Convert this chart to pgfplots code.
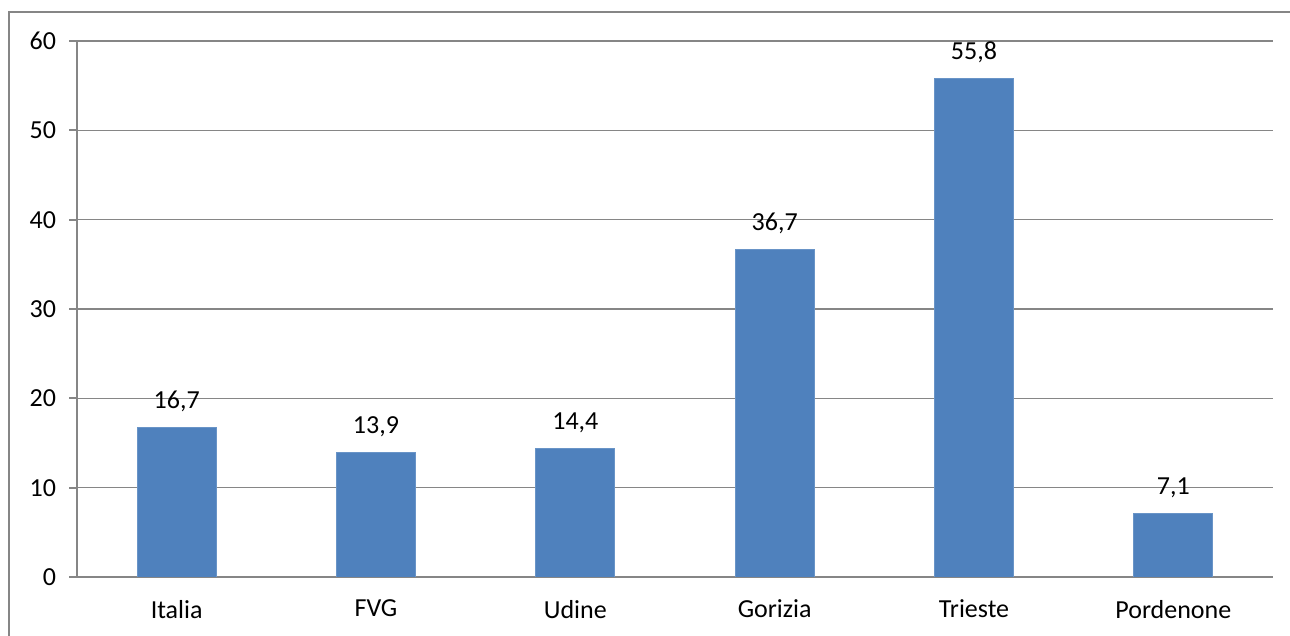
\documentclass[border=0pt]{standalone}
\usepackage{pgfplots}
\pgfplotsset{compat=1.18}
\usepackage{fontspec}
\setmainfont{Carlito}
\definecolor{barblue}{RGB}{79,129,189}
\definecolor{gridgray}{RGB}{134,134,134}
\begin{document}
\begin{tikzpicture}
\useasboundingbox (0pt,0pt) rectangle (645pt,318pt);
\draw[gridgray, line width=1pt] (4.5pt,0pt) -- (4.5pt,312pt) -- (645pt,312pt);
\begin{axis}[
  at={(38.5pt,29.5pt)}, anchor=south west,
  scale only axis,
  width=598pt, height=268pt,
  xmin=-0.5, xmax=5.5, ymin=0, ymax=60,
  ytick={0,10,...,60},
  xtick={0,...,5},
  xticklabels={Italia,FVG,Udine,Gorizia,Trieste,Pordenone},
  minor xtick={-0.5,0.5,...,5.5},
  axis x line*=bottom, axis y line*=left,
  axis line style={gridgray, line width=1pt, -},
  ymajorgrids, grid style={gridgray, line width=0.8pt},
  tick align=outside,
  major tick length=4pt,
  xtick style={draw=none},
  minor tick length=3pt,
  minor tick style={gridgray, line width=1pt},
  ytick style={gridgray, line width=1pt},
  tick label style={font=\fontsize{13}{16}\selectfont},
  /pgf/number format/assume math mode=true,
  xticklabel style={yshift=-4pt},
  yticklabel style={xshift=-3pt},
  ybar, bar width=39.5pt,
  nodes near coords,
  nodes near coords style={font=\fontsize{13}{16}\selectfont, anchor=center, yshift=13pt,
    /pgf/number format/.cd, fixed, fixed zerofill, precision=1, use comma, assume math mode=true},
]
\addplot[fill=barblue, draw=barblue!85!white] coordinates {(0,16.7) (1,13.9) (2,14.4) (3,36.7) (4,55.8) (5,7.1)};
\end{axis}
\end{tikzpicture}
\end{document}
